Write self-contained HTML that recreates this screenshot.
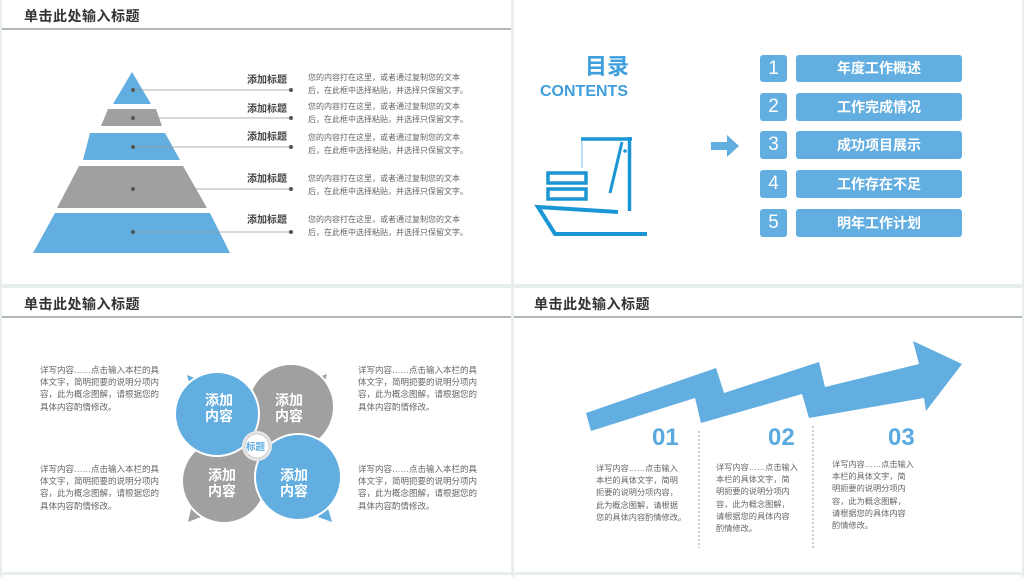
<!DOCTYPE html>
<html><head><meta charset="utf-8"><style>
*{margin:0;padding:0;box-sizing:border-box}
body{width:1024px;height:577px;background:#e8eded;position:relative;overflow:hidden;font-family:"Liberation Sans","Noto Sans CJK SC",sans-serif}
.p{position:absolute;background:#fff}
.t{position:absolute;font-size:14px;font-weight:bold;color:#333;left:22px;top:6px;letter-spacing:0.5px}
.hl{position:absolute;left:0;right:0;top:28px;height:2px;background:#b5b8b8}
.a{position:absolute;white-space:nowrap}
.lbl{font-size:10px;font-weight:bold;color:#444}
.sm{font-size:8px;color:#666;line-height:13px}
.tx{font-size:8.5px;color:#666;line-height:12.2px}
.tx4{font-size:8.2px;color:#666;line-height:12.2px}
.nb{position:absolute;background:#63aee0;border-radius:3px;color:#fff;text-align:center}
</style></head><body>
<!-- panel 1 -->
<div class="p" style="left:2px;top:0;width:509px;height:284px">
<div class="t">单击此处输入标题</div><div class="hl"></div>
<svg style="position:absolute;left:-2px;top:0" width="512" height="284">
<polygon points="132,72 151,104 113,104" fill="#63aee0"/>
<polygon points="108,109 156,109 162,126 101,126" fill="#a0a0a0"/>
<polygon points="90,133 165,133 180,160 83,160" fill="#63aee0"/>
<polygon points="79,166 183,166 207,208 57,208" fill="#a0a0a0"/>
<polygon points="55,213 210,213 230,253 33,253" fill="#63aee0"/>
<g stroke="#999" stroke-width="0.8"><line x1="133" y1="90" x2="291" y2="90"/><line x1="133" y1="118" x2="291" y2="118"/><line x1="133" y1="147" x2="291" y2="147"/><line x1="133" y1="189" x2="291" y2="189"/><line x1="133" y1="232" x2="291" y2="232"/></g>
<g fill="#555"><circle cx="133" cy="90" r="2"/><circle cx="291" cy="90" r="2"/><circle cx="133" cy="118" r="2"/><circle cx="291" cy="118" r="2"/><circle cx="133" cy="147" r="2"/><circle cx="291" cy="147" r="2"/><circle cx="133" cy="189" r="2"/><circle cx="291" cy="189" r="2"/><circle cx="133" cy="232" r="2"/><circle cx="291" cy="232" r="2"/></g>
</svg>
<div class="a lbl" style="left:245px;top:71px">添加标题</div>
<div class="a lbl" style="left:245px;top:100px">添加标题</div>
<div class="a lbl" style="left:245px;top:128px">添加标题</div>
<div class="a lbl" style="left:245px;top:170px">添加标题</div>
<div class="a lbl" style="left:245px;top:211px">添加标题</div>
<div class="a sm" style="left:306px;top:71px">您的内容打在这里，或者通过复制您的文本<br>后，在此框中选择粘贴，并选择只保留文字。</div>
<div class="a sm" style="left:306px;top:100px">您的内容打在这里，或者通过复制您的文本<br>后，在此框中选择粘贴，并选择只保留文字。</div>
<div class="a sm" style="left:306px;top:131px">您的内容打在这里，或者通过复制您的文本<br>后，在此框中选择粘贴，并选择只保留文字。</div>
<div class="a sm" style="left:306px;top:172px">您的内容打在这里，或者通过复制您的文本<br>后，在此框中选择粘贴，并选择只保留文字。</div>
<div class="a sm" style="left:306px;top:213px">您的内容打在这里，或者通过复制您的文本<br>后，在此框中选择粘贴，并选择只保留文字。</div>
</div>
<!-- panel 2 -->
<div class="p" style="left:514px;top:0;width:508px;height:284px">
<svg style="position:absolute;left:-514px;top:0" width="1024" height="284">
<g fill="none" stroke="#1a96d4">
<line x1="581" y1="139" x2="632" y2="139" stroke-width="3.5"/>
<line x1="582" y1="141" x2="582" y2="168" stroke-width="1" stroke="#7cc0e6"/>
<line x1="629.5" y1="137" x2="629.5" y2="211" stroke-width="3.5"/>
<line x1="622" y1="142" x2="610" y2="193" stroke-width="3"/>
<rect x="548" y="173" width="38" height="10" stroke-width="3.5"/>
<rect x="548" y="189" width="38" height="10" stroke-width="3.5"/>
<polyline points="618,212 538,207 555,234 647,234" stroke-width="4"/>
</g>
<circle cx="625" cy="151" r="1.8" fill="#1a96d4"/>
<polygon points="711,142 727,142 727,135 739,146 727,157 727,150 711,150" fill="#63aee0"/>
</svg>
<div class="a" style="left:71px;top:56px;font-size:22px;line-height:22px;font-weight:bold;color:#3e9fdc">目录</div>
<div class="a" style="left:26px;top:84px;font-size:16px;line-height:16px;font-weight:bold;color:#3e9fdc">CONTENTS</div>
<div class="nb" style="left:246px;top:55px;width:27px;height:27px;font-size:19px;line-height:27px">1</div>
<div class="nb" style="left:282px;top:55px;width:166px;height:27px;font-size:14px;font-weight:bold;line-height:27px">年度工作概述</div>
<div class="nb" style="left:246px;top:93px;width:27px;height:28px;font-size:19px;line-height:28px">2</div>
<div class="nb" style="left:282px;top:93px;width:166px;height:28px;font-size:14px;font-weight:bold;line-height:28px">工作完成情况</div>
<div class="nb" style="left:246px;top:131px;width:27px;height:28px;font-size:19px;line-height:28px">3</div>
<div class="nb" style="left:282px;top:131px;width:166px;height:28px;font-size:14px;font-weight:bold;line-height:28px">成功项目展示</div>
<div class="nb" style="left:246px;top:170px;width:27px;height:28px;font-size:19px;line-height:28px">4</div>
<div class="nb" style="left:282px;top:170px;width:166px;height:28px;font-size:14px;font-weight:bold;line-height:28px">工作存在不足</div>
<div class="nb" style="left:246px;top:209px;width:27px;height:28px;font-size:19px;line-height:28px">5</div>
<div class="nb" style="left:282px;top:209px;width:166px;height:28px;font-size:14px;font-weight:bold;line-height:28px">明年工作计划</div>
</div>
<!-- panel 3 -->
<div class="p" style="left:2px;top:288px;width:509px;height:284px">
<div class="t">单击此处输入标题</div><div class="hl"></div>
<svg style="position:absolute;left:-2px;top:-288px" width="512" height="577">
<g stroke="#fff" stroke-width="2">
<polygon points="187,375 200,380 192,392" fill="#63aee0" stroke="none"/>
<polygon points="327,374 313,379 322,392" fill="#a0a0a0" stroke="none"/>
<polygon points="188,522 201,517 192,505" fill="#a0a0a0" stroke="none"/>
<polygon points="332,522 318,517 327,505" fill="#63aee0" stroke="none"/>
<circle cx="291" cy="407" r="43" fill="#a0a0a0"/>
<circle cx="224" cy="481" r="42" fill="#a0a0a0"/>
<circle cx="217" cy="414" r="42" fill="#63aee0"/>
<circle cx="298" cy="477" r="43" fill="#63aee0"/>
</g>
<circle cx="257" cy="446" r="15" fill="#e6e6e6"/>
<circle cx="257" cy="446" r="12" fill="#fff" stroke="#ccc" stroke-width="1"/>
</svg>
<div class="a" style="left:203px;top:104px;font-size:14px;font-weight:bold;color:#fff;line-height:16px;text-align:center">添加<br>内容</div>
<div class="a" style="left:273px;top:104px;font-size:14px;font-weight:bold;color:#fff;line-height:16px;text-align:center">添加<br>内容</div>
<div class="a" style="left:206px;top:179px;font-size:14px;font-weight:bold;color:#fff;line-height:16px;text-align:center">添加<br>内容</div>
<div class="a" style="left:278px;top:179px;font-size:14px;font-weight:bold;color:#fff;line-height:16px;text-align:center">添加<br>内容</div>
<div class="a" style="left:244px;top:151px;font-size:9.5px;font-weight:bold;color:#5aaadf">标题</div>
<div class="a tx" style="left:38px;top:76px">详写内容……点击输入本栏的具<br>体文字，简明扼要的说明分项内<br>容，此为概念图解，请根据您的<br>具体内容酌情修改。</div>
<div class="a tx" style="left:356px;top:76px">详写内容……点击输入本栏的具<br>体文字，简明扼要的说明分项内<br>容，此为概念图解，请根据您的<br>具体内容酌情修改。</div>
<div class="a tx" style="left:38px;top:175px">详写内容……点击输入本栏的具<br>体文字，简明扼要的说明分项内<br>容，此为概念图解，请根据您的<br>具体内容酌情修改。</div>
<div class="a tx" style="left:356px;top:175px">详写内容……点击输入本栏的具<br>体文字，简明扼要的说明分项内<br>容，此为概念图解，请根据您的<br>具体内容酌情修改。</div>
</div>
<!-- panel 4 -->
<div class="p" style="left:514px;top:288px;width:508px;height:284px">
<div class="t" style="left:20px">单击此处输入标题</div><div class="hl"></div>
<svg style="position:absolute;left:-514px;top:-288px" width="1024" height="577">
<polygon points="591,431 586,413 716,368 724,393 819,362 825,387 919,364 913,341 962,364 926,411 924,398 809,418 802,394 701,423 695,398" fill="#63aee0"/>
<g stroke="#999" stroke-width="1" stroke-dasharray="2,2"><line x1="699" y1="431" x2="699" y2="548"/><line x1="813" y1="426" x2="813" y2="550"/></g>
</svg>
<div class="a" style="left:138px;top:136px;font-size:24px;font-weight:bold;color:#5aaadf">01</div>
<div class="a" style="left:254px;top:136px;font-size:24px;font-weight:bold;color:#5aaadf">02</div>
<div class="a" style="left:374px;top:136px;font-size:24px;font-weight:bold;color:#5aaadf">03</div>
<div class="a tx4" style="left:82px;top:175px">详写内容……点击输入<br>本栏的具体文字，简明<br>扼要的说明分项内容，<br>此为概念图解，请根据<br>您的具体内容酌情修改。</div>
<div class="a tx4" style="left:202px;top:174px">详写内容……点击输入<br>本栏的具体文字，简<br>明扼要的说明分项内<br>容，此为概念图解，<br>请根据您的具体内容<br>酌情修改。</div>
<div class="a tx4" style="left:318px;top:171px">详写内容……点击输入<br>本栏的具体文字，简<br>明扼要的说明分项内<br>容，此为概念图解，<br>请根据您的具体内容<br>酌情修改。</div>
</div>
<div class="p" style="left:2px;top:575px;width:509px;height:2px"></div>
<div class="p" style="left:514px;top:575px;width:508px;height:2px"></div>
</body></html>
